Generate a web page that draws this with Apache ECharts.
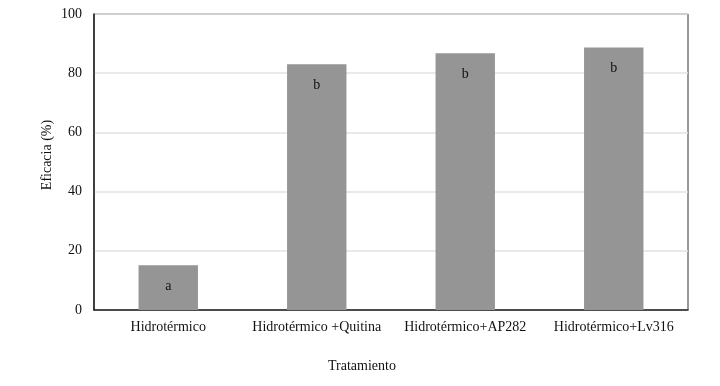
<!DOCTYPE html>
<html>
<head>
<meta charset="utf-8">
<script src="https://cdn.jsdelivr.net/npm/echarts@6/dist/echarts.min.js"></script>
<style>html,body{margin:0;padding:0;background:#fff}#c{width:720px;height:386px}</style>
</head>
<body>
<div id="c"></div>
<script>
var categories = ['Hidrotérmico', 'Hidrotérmico +Quitina', 'Hidrotérmico+AP282', 'Hidrotérmico+Lv316'];
var eficacia = [15.1, 83.0, 86.7, 88.7];
var letters = ['a', 'b', 'b', 'b'];
var yTicks = [0, 20, 40, 60, 80, 100];
var xTitle = 'Tratamiento';
var yTitle = 'Eficacia (%)';

var FONT = '"Liberation Serif", "Times New Roman", serif';
var chart = echarts.init(document.getElementById('c'), null, {renderer: 'canvas'});
chart.setOption({
  animation: false,
  backgroundColor: '#ffffff',
  grid: {left: 94, right: 32, top: 14, bottom: 76, show: true, borderColor: '#333', borderWidth: 1, backgroundColor: 'transparent'},
  xAxis: {
    type: 'category',
    data: categories,
    axisLine: {lineStyle: {color: '#222', width: 1.5}},
    axisTick: {show: false},
    axisLabel: {interval: 0, color: '#111', fontFamily: FONT, fontSize: 14, margin: 10},
    splitLine: {show: false}
  },
  yAxis: {
    type: 'value',
    min: yTicks[0],
    max: yTicks[yTicks.length - 1],
    interval: yTicks[1] - yTicks[0],
    axisLine: {show: true, lineStyle: {color: '#222', width: 1.5}},
    axisTick: {show: false},
    axisLabel: {color: '#111', fontFamily: FONT, fontSize: 14, margin: 12},
    splitLine: {lineStyle: {color: '#e2e2e2', width: 1.5}}
  },
  series: [{
    type: 'bar',
    data: eficacia,
    barWidth: '40%',
    itemStyle: {color: '#959595'},
    label: {
      show: true,
      position: 'insideTop',
      distance: 14,
      color: '#111',
      fontFamily: FONT,
      fontSize: 14,
      formatter: function (p) { return letters[p.dataIndex]; }
    }
  }],
  graphic: [
    {type: 'text', style: {text: xTitle, font: '14px ' + FONT, fill: '#111', textAlign: 'center', textVerticalAlign: 'middle', x: 362, y: 366}},
    {type: 'text', rotation: Math.PI / 2, x: 47, y: 155, style: {text: yTitle, font: '14px ' + FONT, fill: '#111', textAlign: 'center', textVerticalAlign: 'middle'}}
  ]
});
</script>
</body>
</html>
